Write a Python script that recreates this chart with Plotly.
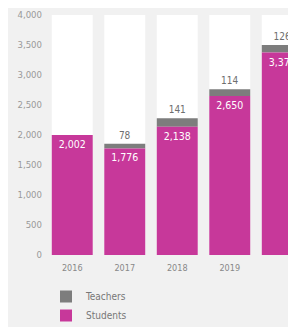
import plotly.graph_objects as go

years = ["2016", "2017", "2018", "2019", "2020"]
students = [2002, 1776, 2138, 2650, 3374]
teachers = [None, 78, 141, 114, 126]
axis_max = [4000, 4000, 4000, 4000, 4000]
y_ticks = [0, 500, 1000, 1500, 2000, 2500, 3000, 3500, 4000]
x_ticks = ["2016", "2017", "2018", "2019"]

MAGENTA = "#c7389a"
GRAY = "#7d7d7d"
BG = "#f1f1f1"
FONT = "DejaVu Sans Condensed, Liberation Sans Narrow, sans-serif"

fig = go.Figure()
fig.add_bar(x=years, y=axis_max, marker=dict(color="white", line=dict(width=0)),
            showlegend=False, hoverinfo="skip")
fig.add_bar(x=years, y=teachers, base=students, name="Teachers", legendgroup="t",
            marker=dict(color=GRAY, line=dict(width=0)),
            text=[f"{v:,}" if v else "" for v in teachers], textposition="outside",
            textfont=dict(color="#6e6e6e", size=10, family=FONT), cliponaxis=False)
fig.add_bar(x=years, y=students, name="Students", legendgroup="s",
            marker=dict(color=MAGENTA, line=dict(width=0)),
            text=[f"{v:,}" for v in students], textposition="inside",
            insidetextanchor="end", textangle=0,
            textfont=dict(color="white", size=10.5, family=FONT))

fig.update_layout(
    width=296, height=327,
    barmode="overlay", bargap=0.22,
    paper_bgcolor=BG, plot_bgcolor=BG,
    margin=dict(l=38, r=0, t=7, b=80, autoexpand=False),
    font=dict(family=FONT, color="#888888", size=9),
    legend=dict(orientation="v", xref="container", yref="container",
                x=38 / 296, xanchor="left", y=1 - 274 / 327, yanchor="top",
                traceorder="normal", tracegroupgap=6,
                font=dict(size=10, color="#777777"),
                bgcolor="rgba(0,0,0,0)"),
    xaxis=dict(range=[-0.5, 4.414], showgrid=False, zeroline=False, showline=False,
               ticks="", tickvals=x_ticks, automargin=False, ticklabelstandoff=6,
               tickfont=dict(size=9, color="#888888")),
    yaxis=dict(range=[0, 4000], tickvals=y_ticks, tickformat=",", showgrid=False,
               zeroline=False, showline=False, ticks="", automargin=False,
               ticklabelstandoff=3,
               tickfont=dict(size=9.5, color="#999999")),
)

fig.write_html("out.html")
